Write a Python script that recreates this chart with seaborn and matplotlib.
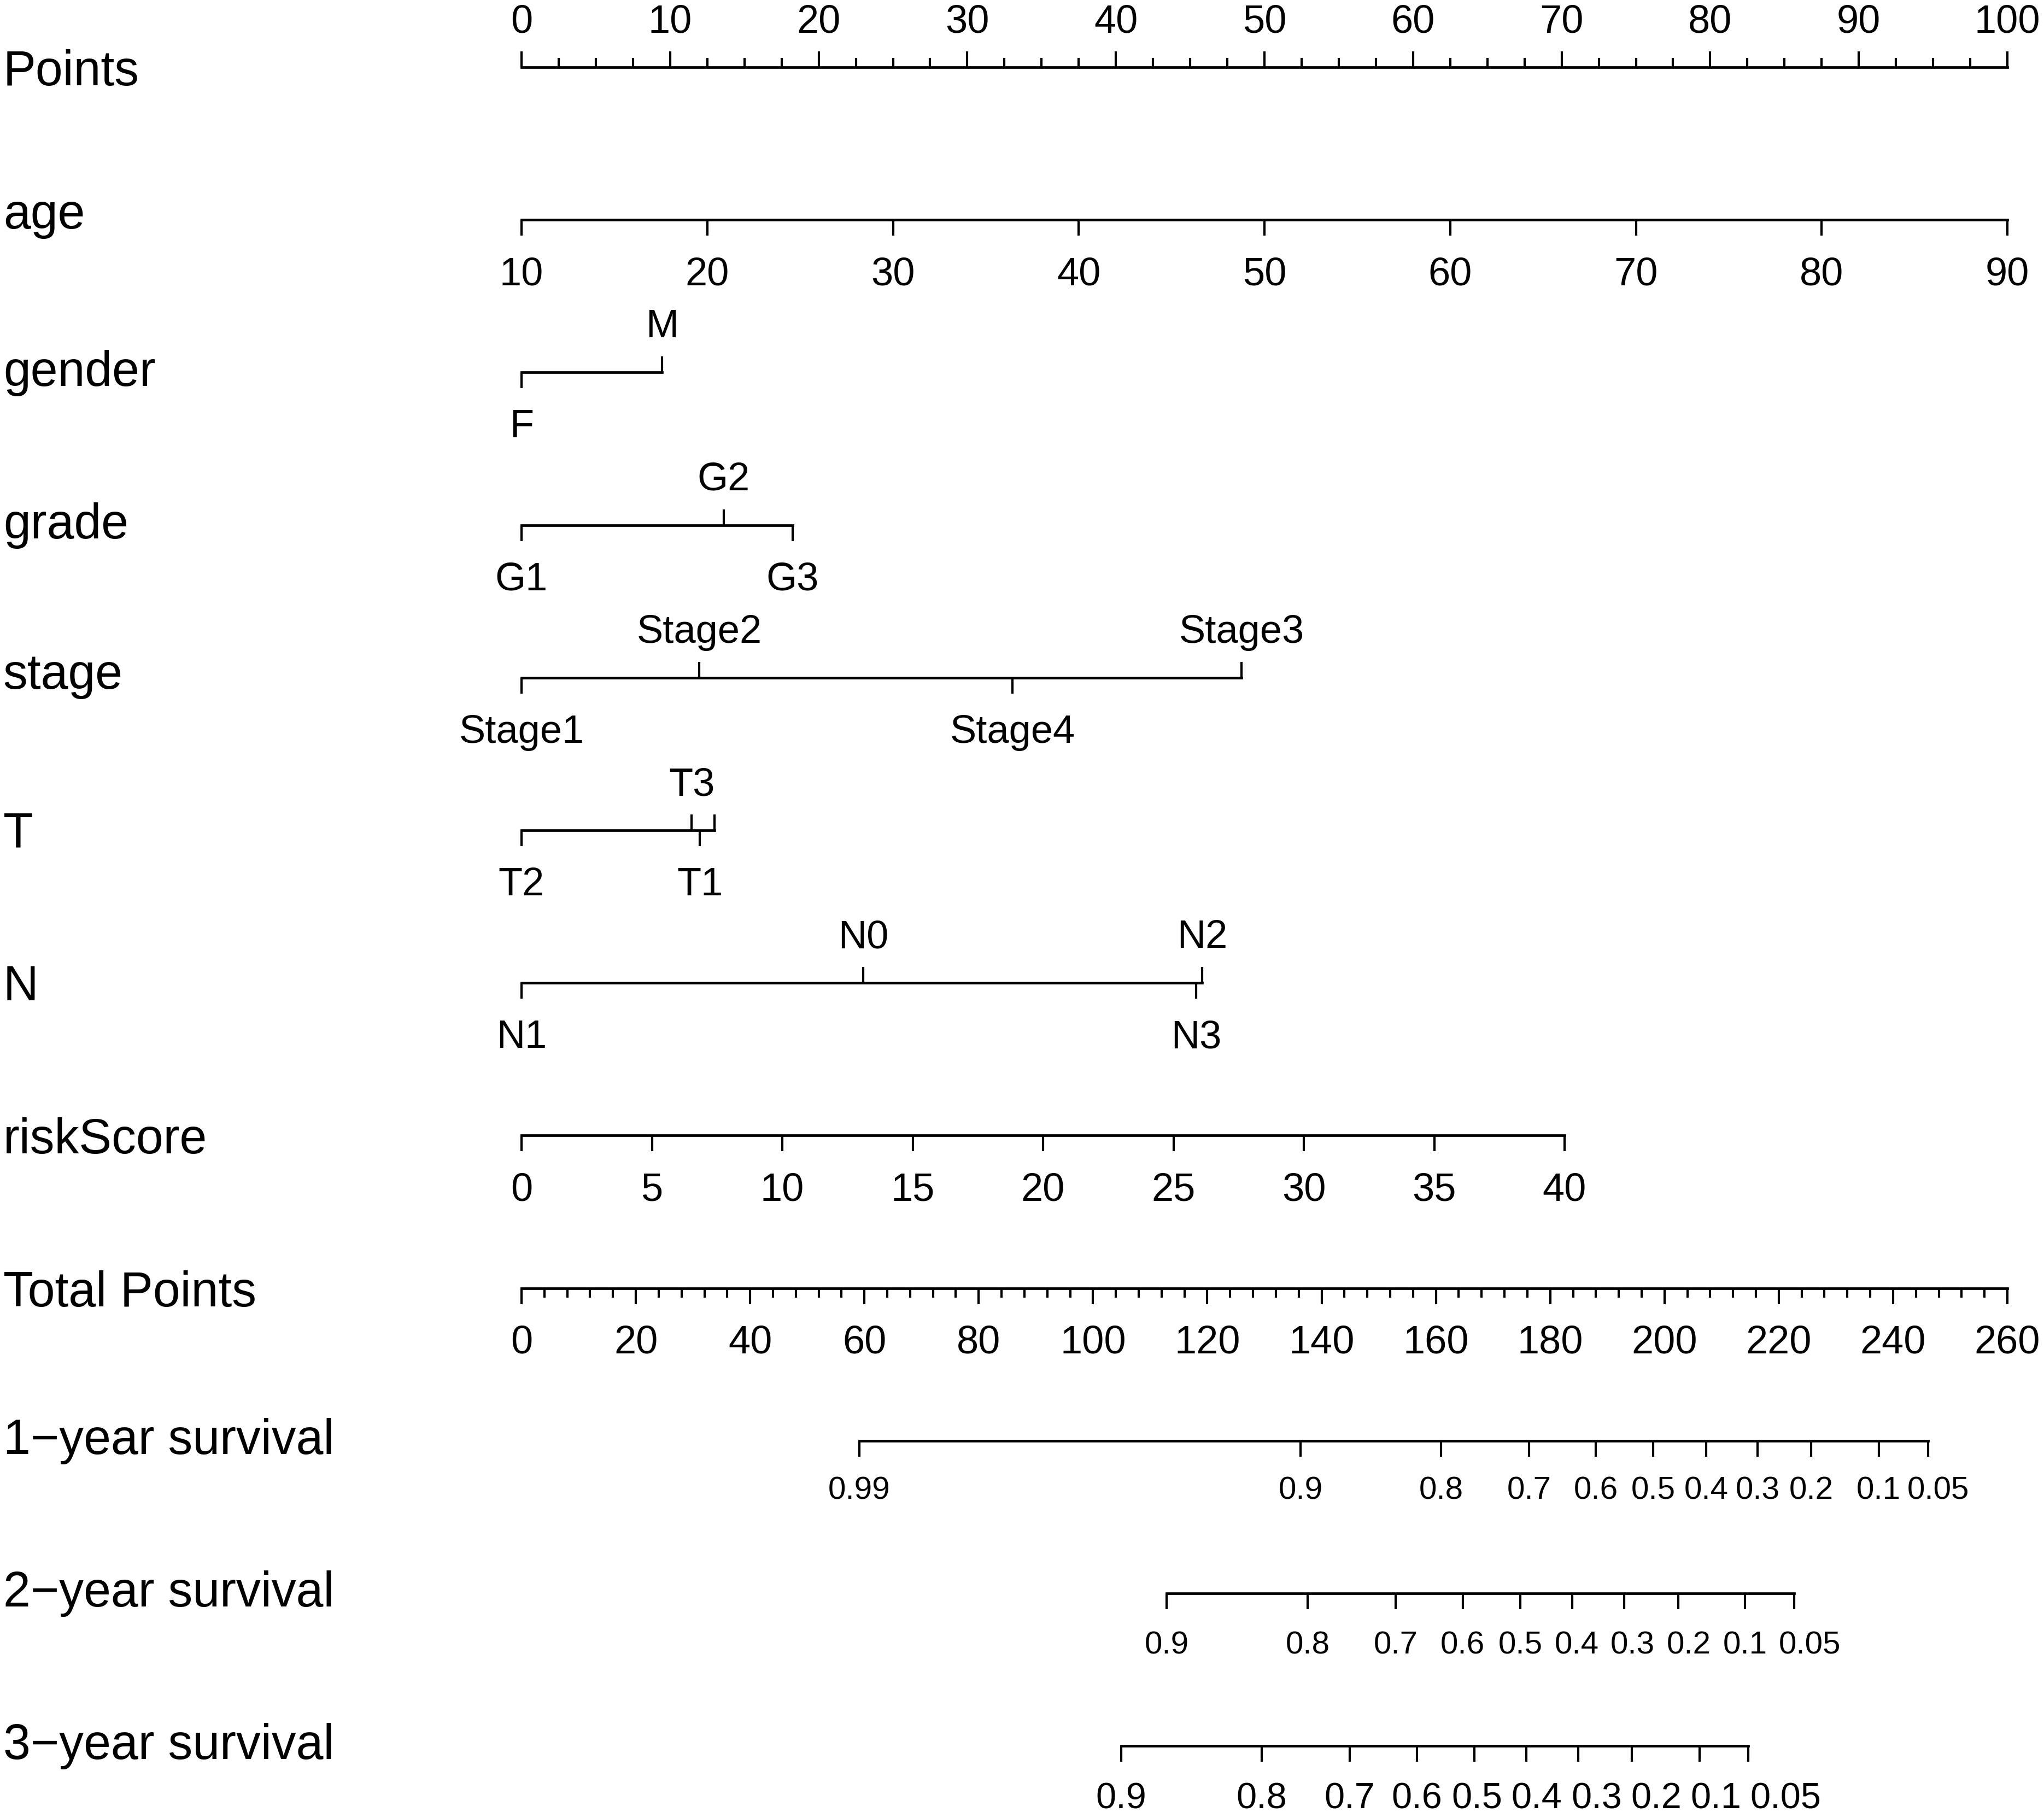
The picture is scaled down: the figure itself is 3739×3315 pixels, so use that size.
import numpy as np
import pandas as pd
import matplotlib
matplotlib.use("Agg")
import matplotlib.pyplot as plt
import seaborn as sns
from matplotlib.textpath import TextPath
from matplotlib.font_manager import FontProperties

# ---------------- data ----------------
row_labels = ["Points", "age", "gender", "grade", "stage", "T", "N", "riskScore",
              "Total Points", "1\u2212year survival", "2\u2212year survival",
              "3\u2212year survival"]

points_major = [0, 10, 20, 30, 40, 50, 60, 70, 80, 90, 100]
points_minor_step = 2.5

age_ticks = [10, 20, 30, 40, 50, 60, 70, 80, 90]
age_range = [10, 90]          # age values at the two ends
age_range_points = [0, 100]   # points at the two ends

gender_levels = ["F", "M"]
gender_points = [0.0, 9.45]

grade_levels = ["G1", "G2", "G3"]
grade_points = [0.0, 13.6, 18.25]

stage_levels = ["Stage1", "Stage2", "Stage4", "Stage3"]
stage_points = [0.0, 11.95, 33.05, 48.45]

T_levels = ["T2", "T3", "T1", ""]
T_points = [0.0, 11.45, 12.0, 13.0]

N_levels = ["N1", "N0", "N3", "N2"]
N_points = [0.0, 23.0, 45.4, 45.8]

risk_ticks = [0, 5, 10, 15, 20, 25, 30, 35, 40]
risk_range = [0, 40]
risk_range_points = [0, 70.2]

total_major = [0, 20, 40, 60, 80, 100, 120, 140, 160, 180, 200, 220, 240, 260]
total_minor_step = 4
total_max = 260

surv1_labels = ["0.99", "0.9", "0.8", "0.7", "0.6", "0.5", "0.4", "0.3", "0.2", "0.1", "0.05"]
surv1_total = [59.1, 136.3, 160.9, 176.3, 188.0, 198.0, 207.3, 216.3, 225.7, 237.5, 246.1]

surv2_labels = ["0.9", "0.8", "0.7", "0.6", "0.5", "0.4", "0.3", "0.2", "0.1", "0.05"]
surv2_total = [112.9, 137.6, 153.0, 164.7, 174.8, 183.9, 192.9, 202.4, 214.1, 222.7]

surv3_labels = ["0.9", "0.8", "0.7", "0.6", "0.5", "0.4", "0.3", "0.2", "0.1", "0.05"]
surv3_total = [104.9, 129.5, 144.9, 156.7, 166.7, 175.8, 184.9, 194.3, 206.1, 214.7]

# ---------------- layout ----------------
W, H, DPI = 3739, 3316, 100
X0_PX, X100_PX = 954, 3672
ROW0_PX, ROW_STEP_PX = 124, 279.2
PPX = (X100_PX - X0_PX) / 100.0

ROW_FS = 64.5
TICK_FS = 52
SURV_FS = [42, 42, 48]
SURV_GAP = [16, 26, 22]
LW_LINE = 3.4
LW_TICK = 3.0
MAJ_LEN = 29
MIN_LEN = 17
ABOVE_OFF = 65
BELOW_OFF = 118
SURV_OFF = [106, 110, 113]

sns.set_theme(style="white")
plt.rcParams["font.family"] = ["Liberation Sans", "DejaVu Sans"]
FP = FontProperties(family="Liberation Sans")


def dy(px):
    return px / ROW_STEP_PX


def pt2px(pt):
    return pt * DPI / 72.0


def ink(s, fs):
    return TextPath((0, 0), s, size=pt2px(fs), prop=FP).get_extents()


fig = plt.figure(figsize=(W / DPI, H / DPI), dpi=DPI)
ax = fig.add_axes([0, 0, 1, 1])

segs = []
ticks = []   # (x, y0, y1)
texts = []   # (x, y, s, fs)


def add_line(row, x0, x1):
    sid = len(segs)
    segs.append({"seg": sid, "x": x0, "y": row})
    segs.append({"seg": sid, "x": x1, "y": row})


def add_tick(row, x, length_px, up):
    y1 = row - dy(length_px) if up else row + dy(length_px)
    ticks.append((x, row, y1))


def add_label(row, x, s, fs, above, off=None):
    if not s:
        return
    if above:
        y = row - dy(ABOVE_OFF)
    else:
        y = row + dy(BELOW_OFF if off is None else off)
    texts.append((x, y, s, fs))


# row 0: Points
r = 0
add_line(r, 0, 100)
for v in np.arange(0, 100 + 1e-9, points_minor_step):
    if v not in points_major:
        add_tick(r, v, MIN_LEN, up=True)
for v in points_major:
    add_tick(r, v, MAJ_LEN, up=True)
    add_label(r, v, f"{v}", TICK_FS, above=True)

# row 1: age


def age_pts(a):
    return np.interp(a, age_range, age_range_points)


r = 1
add_line(r, age_pts(age_range[0]), age_pts(age_range[1]))
for a in age_ticks:
    add_tick(r, age_pts(a), MAJ_LEN, up=False)
    add_label(r, age_pts(a), f"{a}", TICK_FS, above=False)

# categorical rows
for r, (levels, pts) in zip([2, 3, 4, 5, 6],
                            [(gender_levels, gender_points), (grade_levels, grade_points),
                             (stage_levels, stage_points), (T_levels, T_points),
                             (N_levels, N_points)]):
    order = np.argsort(pts, kind="stable")
    add_line(r, min(pts), max(pts))
    for i, k in enumerate(order):
        up = (i % 2 == 1)
        add_tick(r, pts[k], MAJ_LEN, up=up)
        add_label(r, pts[k], levels[k], TICK_FS, above=up)

# row 7: riskScore


def risk_pts(v):
    return np.interp(v, risk_range, risk_range_points)


r = 7
add_line(r, risk_pts(risk_range[0]), risk_pts(risk_range[1]))
for v in risk_ticks:
    add_tick(r, risk_pts(v), MAJ_LEN, up=False)
    add_label(r, risk_pts(v), f"{v}", TICK_FS, above=False)

# row 8: Total Points


def tot_x(t):
    return np.asarray(t, dtype=float) * 100.0 / total_max


r = 8
add_line(r, tot_x(0), tot_x(total_max))
for v in range(0, total_max + 1, total_minor_step):
    if v not in total_major:
        add_tick(r, tot_x(v), MIN_LEN, up=False)
for v in total_major:
    add_tick(r, tot_x(v), MAJ_LEN, up=False)
    add_label(r, tot_x(v), f"{v}", TICK_FS, above=False)


# survival rows with label packing to avoid overlaps
def packed_positions(xs, labels, fs, gap_px):
    widths = [ink(s, fs).width / PPX for s in labels]
    out = []
    for i, x in enumerate(xs):
        if i == 0:
            out.append(x)
            continue
        need = out[-1] + widths[i - 1] / 2 + widths[i] / 2 + gap_px / PPX
        out.append(max(x, need))
    return out


for j, (r, labels, tot) in enumerate(zip([9, 10, 11],
                                         [surv1_labels, surv2_labels, surv3_labels],
                                         [surv1_total, surv2_total, surv3_total])):
    xs = list(tot_x(tot))
    add_line(r, min(xs), max(xs))
    for x in xs:
        add_tick(r, x, MAJ_LEN, up=False)
    for x, s in zip(packed_positions(xs, labels, SURV_FS[j], SURV_GAP[j]), labels):
        add_label(r, x, s, SURV_FS[j], above=False, off=SURV_OFF[j])

# ---------------- draw ----------------
df = pd.DataFrame(segs)
sns.lineplot(data=df, x="x", y="y", units="seg", estimator=None, sort=False,
             color="black", linewidth=LW_LINE, solid_capstyle="projecting", ax=ax)
tk = np.array(ticks)
ax.vlines(tk[:, 0], tk[:, 1], tk[:, 2], colors="black", linewidth=LW_TICK,
          capstyle="butt")
for x, y, s, fs in texts:
    ax.text(x, y, s, ha="center", va="baseline", fontsize=fs, color="black")

# row labels, vertically centred (ink box) on the axis line
x_left = -X0_PX / PPX + 6 / PPX
for r, s in enumerate(row_labels):
    e = ink(s, ROW_FS)
    c = (e.y0 + e.y1) / 2.0
    ax.text(x_left, r + dy(c), s, ha="left", va="baseline", fontsize=ROW_FS,
            color="black")

ax.set_xlim(-X0_PX / PPX, (W - X0_PX) / PPX)
ax.set_ylim((H - ROW0_PX) / ROW_STEP_PX, -ROW0_PX / ROW_STEP_PX)
ax.set_axis_off()

fig.savefig("out.png", dpi=DPI, facecolor="white")
